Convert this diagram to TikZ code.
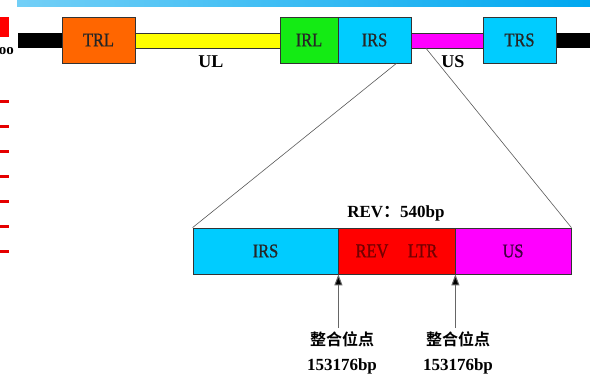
\documentclass[tikz,border=0pt]{standalone}
\usepackage{fontspec}
\setmainfont{Liberation Serif}
\newfontfamily\segfont{Liberation Serif}[FakeStretch=0.84, FakeBold=0.9]
\newfontfamily\cjkfont{Noto Sans CJK SC}[BoldFont={Noto Sans CJK SC Bold}]
\usepackage{tikz}
\usetikzlibrary{arrows.meta, positioning}

\definecolor{trlorange}{RGB}{255, 102, 0}
\definecolor{ulyellow}{RGB}{255, 255, 0}
\definecolor{irlgreen}{RGB}{20, 235, 20}
\definecolor{irscyan}{RGB}{0, 204, 255}
\definecolor{usmagenta}{RGB}{255, 0, 255}
\definecolor{revred}{RGB}{255, 0, 0}
\definecolor{bandblue}{RGB}{0, 168, 240}

\begin{document}
\begin{tikzpicture}[
  x=1pt, y=-1pt,
  seg/.style={draw=black!80, line width=0.8pt, minimum height=46pt, inner sep=0pt, text=black!85, font=\segfont\fontsize{19.5}{22}\selectfont},
  bar/.style={draw=black!80, line width=0.6pt, minimum height=15pt, inner sep=0pt},
  lbl/.style={font=\fontsize{18}{20}\selectfont\bfseries},
  site/.style={align=center, font=\fontsize{17}{25}\selectfont\bfseries},
  cut/.style={draw=black!65, line width=0.6pt},
  pin/.style={draw=black!60, line width=1pt, -{Triangle[length=11pt, width=8pt, fill=black]}}
]
  \useasboundingbox (0,0) rectangle (590,377);

  % slide edge on the left
  \shade[left color=bandblue!55, right color=bandblue] (17,0) rectangle (590,7);
  \fill[revred] (0,17) rectangle (9,37);
  \node[anchor=east, inner sep=0pt, font=\fontsize{15}{15}\selectfont\bfseries] (edge) at (14,51) {oo};
  \foreach \y in {102,127,152,177,202,227,252}
    \fill[revred!90!black] (0,\y-1.5) rectangle (9,\y+1.5);

  % genome map
  \fill (18,33) rectangle (62,48);
  \fill (556,33) rectangle (590,48);
  \node[bar, fill=ulyellow, minimum width=145pt] (ul) at (207.5,40.5) {};
  \node[bar, fill=usmagenta, minimum width=72pt] (us) at (447,40.5) {};
  \node[seg, fill=trlorange, minimum width=73pt] (trl) at (98.5,40) {TRL};
  \node[seg, fill=irlgreen, minimum width=58pt] (irl) at (309,40) {IRL};
  \node[seg, fill=irscyan, minimum width=73pt] (irs) at (374.5,40) {IRS};
  \node[seg, fill=irscyan, minimum width=73pt] (trs) at (519.5,40) {TRS};
  \node[lbl] (ullbl) at (211,62) {UL};
  \node[lbl] (uslbl) at (453,62) {US};

  % enlarged junction
  \node[seg, fill=irscyan, minimum width=145pt] (irsz) at (265.5,251) {IRS};
  \node[seg, fill=revred, minimum width=117pt, text=red!45!black] (rev) at (396.5,251) {REV\quad LTR};
  \node[seg, fill=usmagenta, minimum width=116pt, text=violet!50!black] (usz) at (513,251) {US};
  \node[lbl, font=\fontsize{17}{20}\selectfont\bfseries] (revlen) at (396,213) {REV{\cjkfont ：}540bp};

  \draw[cut] ([xshift=-15pt]irs.south east) -- (irsz.north west);
  \draw[cut] ([xshift=-21pt]us.south) -- (usz.north east);

  % integration sites
  \node[site] (siteA) at (342,353) {{\cjkfont\fontsize{16}{16}\selectfont 整合位点}\\153176bp};
  \node[site] (siteB) at (458,353) {{\cjkfont\fontsize{16}{16}\selectfont 整合位点}\\153176bp};
  \draw[pin] (siteA.north -| irsz.south east) -- (irsz.south east);
  \draw[pin] (siteB.north -| rev.south east) -- (rev.south east);
\end{tikzpicture}
\end{document}
